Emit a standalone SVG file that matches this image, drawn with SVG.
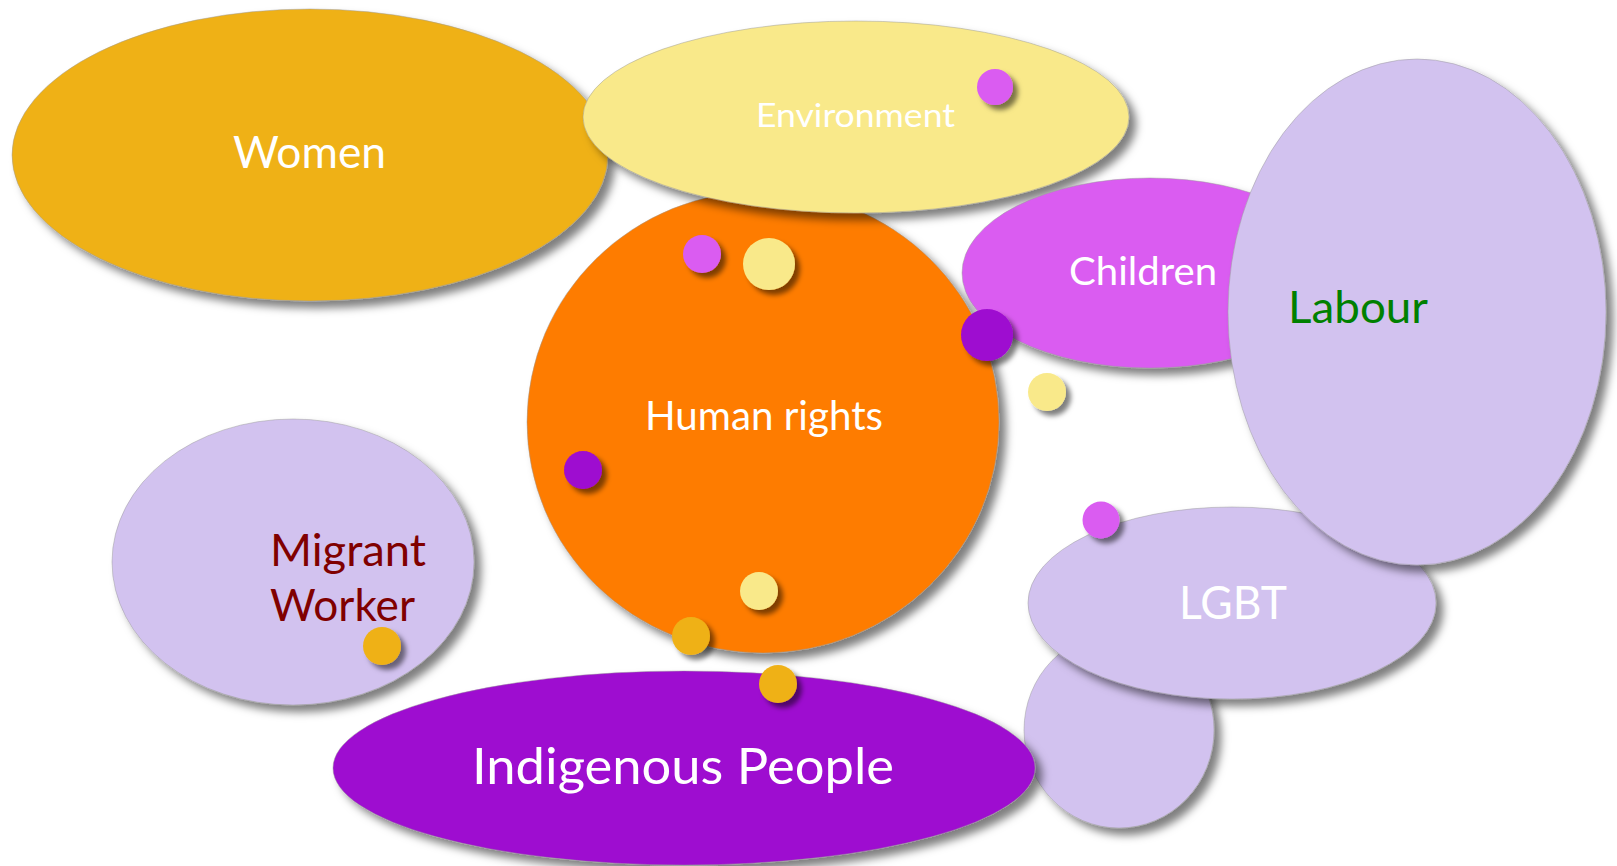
<svg xmlns="http://www.w3.org/2000/svg" width="1617" height="866" viewBox="0 0 1617 866">
  <defs>
    <filter id="sh" x="-10%" y="-10%" width="125%" height="125%">
      <feDropShadow dx="7" dy="7" stdDeviation="4" flood-color="#000" flood-opacity="0.5"/>
    </filter>
    <filter id="shd" x="-40%" y="-40%" width="190%" height="190%">
      <feDropShadow dx="5" dy="5" stdDeviation="2.5" flood-color="#000" flood-opacity="0.5"/>
    </filter>
  </defs>
  <style>
    .blob { filter: url(#sh); stroke: #9a9a9a; stroke-width: 0.8; stroke-opacity: 0.6; }
    .dot { filter: url(#shd); }
    .lbl { font-family: Lato, "Open Sans", "Liberation Sans", sans-serif; }
    .gold { fill: #EFB119; }
    .yel { fill: #F9E98A; }
    .org { fill: #FE7C00; }
    .pink { fill: #DA5BF1; }
    .lav { fill: #D2C2EF; }
    .purp { fill: #9E09D0; }
    .w { fill: #FFFFFF; }
  </style>
  <rect width="1617" height="866" fill="#FFFFFF"/>

  <g id="women">
    <ellipse class="blob gold" cx="310" cy="155" rx="298" ry="146"/>
    <text class="lbl w" x="233" y="168" font-size="44" textLength="153" lengthAdjust="spacingAndGlyphs">Women</text>
  </g>

  <g id="human-rights">
    <ellipse class="blob org" cx="763" cy="422" rx="236" ry="231"/>
    <text class="lbl w" x="645" y="430" font-size="40" textLength="238" lengthAdjust="spacingAndGlyphs">Human rights</text>
  </g>

  <g id="environment">
    <ellipse class="blob yel" cx="856" cy="117" rx="273" ry="96"/>
    <text class="lbl w" x="756" y="127" font-size="33" textLength="199" lengthAdjust="spacingAndGlyphs">Environment</text>
  </g>

  <g id="children">
    <ellipse class="blob pink" cx="1150" cy="273" rx="188" ry="95"/>
    <text class="lbl w" x="1069" y="285" font-size="39" textLength="148" lengthAdjust="spacingAndGlyphs">Children</text>
  </g>

  <g id="lower-blob">
    <ellipse class="blob lav" cx="1119" cy="730" rx="95" ry="98"/>
  </g>

  <g id="lgbt">
    <ellipse class="blob lav" cx="1232" cy="603" rx="204" ry="96"/>
    <text class="lbl w" x="1179" y="619" font-size="47" textLength="108" lengthAdjust="spacingAndGlyphs">LGBT</text>
  </g>

  <g id="labour">
    <ellipse class="blob lav" cx="1417" cy="312" rx="189" ry="253"/>
    <text class="lbl" fill="#008000" x="1288" y="323" font-size="45" textLength="140" lengthAdjust="spacingAndGlyphs">Labour</text>
  </g>

  <g id="migrant-worker">
    <ellipse class="blob lav" cx="293" cy="562" rx="181" ry="143"/>
    <text class="lbl" fill="#800000" font-size="44">
      <tspan x="270" y="566" textLength="156" lengthAdjust="spacingAndGlyphs">Migrant</tspan>
      <tspan x="270" y="621" textLength="145" lengthAdjust="spacingAndGlyphs">Worker</tspan>
    </text>
  </g>

  <g id="indigenous-people">
    <ellipse class="blob purp" cx="684" cy="768" rx="351" ry="97"/>
    <text class="lbl w" x="472" y="784" font-size="51" textLength="422" lengthAdjust="spacingAndGlyphs">Indigenous People</text>
  </g>

  <g id="connectors">
    <circle class="dot pink" cx="995" cy="87" r="18"/>
    <circle class="dot pink" cx="702" cy="254" r="19"/>
    <circle class="dot yel" cx="769" cy="264" r="26"/>
    <circle class="dot purp" cx="987" cy="335" r="26"/>
    <circle class="dot yel" cx="1047" cy="392" r="19"/>
    <circle class="dot purp" cx="583" cy="470" r="19"/>
    <circle class="dot yel" cx="759" cy="591" r="19"/>
    <circle class="dot gold" cx="691" cy="636" r="19"/>
    <circle class="dot gold" cx="778" cy="684" r="19"/>
    <circle class="dot gold" cx="382" cy="646" r="19"/>
    <circle class="dot pink" cx="1101" cy="520" r="18.5"/>
  </g>
</svg>
